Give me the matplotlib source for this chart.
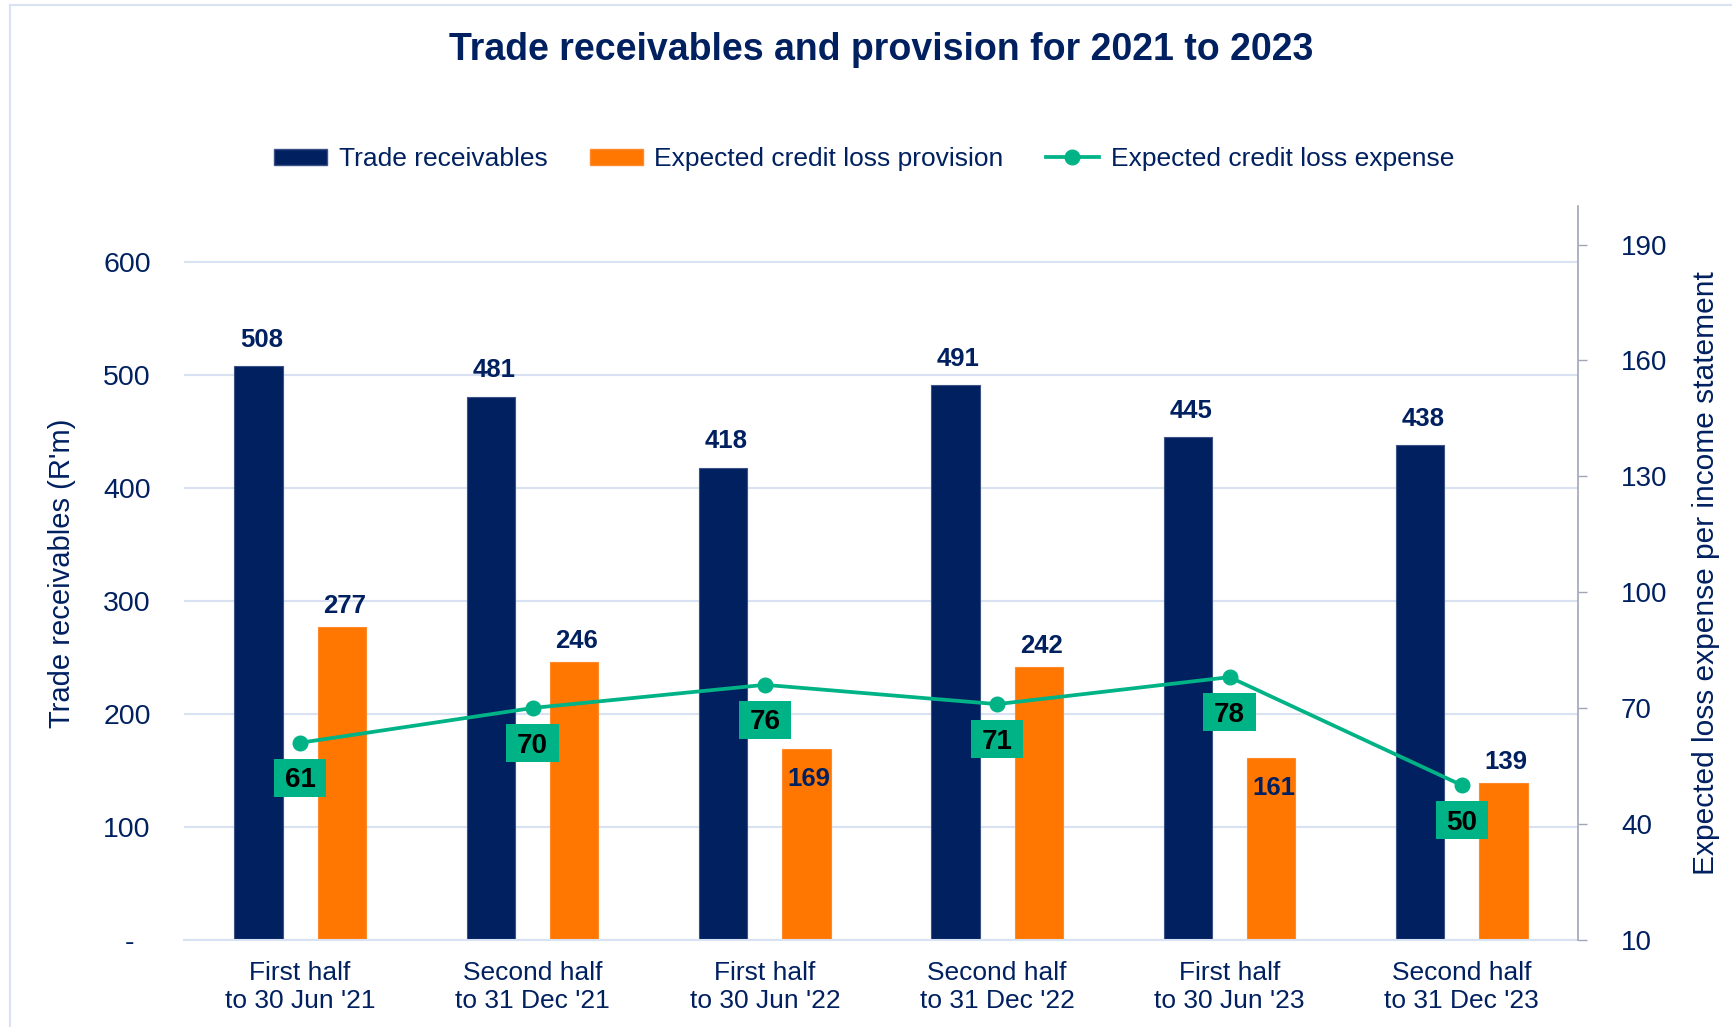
import numpy as np
import matplotlib
matplotlib.use("Agg")
import matplotlib.pyplot as plt
from matplotlib.patches import Patch
from matplotlib.lines import Line2D
from matplotlib.path import Path

plt.rcParams['font.family'] = ['Liberation Sans', 'DejaVu Sans']

# ---- data -------------------------------------------------------------
periods = ["First half\nto 30 Jun '21", "Second half\nto 31 Dec '21",
           "First half\nto 30 Jun '22", "Second half\nto 31 Dec '22",
           "First half\nto 30 Jun '23", "Second half\nto 31 Dec '23"]
trade_receivables = [508, 481, 418, 491, 445, 438]
ecl_provision = [277, 246, 169, 242, 161, 139]
ecl_expense = [61, 70, 76, 71, 78, 50]
# provision labels that sit inside the top of their bar
provision_inside = [False, False, True, False, True, False]

left_ticks = [0, 100, 200, 300, 400, 500, 600]
left_tick_labels = ['-  ', '100', '200', '300', '400', '500', '600']
right_ticks = [10, 40, 70, 100, 130, 160, 190]

NAVY = '#002060'
ORANGE = '#FF7700'
GREEN = '#00B386'
GRID = '#D9E2F3'
AXIS_GREY = '#A0A6B6'


class LabelBox:
    """Rectangular box with separate horizontal / top / bottom padding."""

    def __init__(self, padx, pad_top, pad_bottom):
        self.padx, self.pad_top, self.pad_bottom = padx, pad_top, pad_bottom

    def __call__(self, x0, y0, width, height, mutation_size):
        px = self.padx * mutation_size
        x0, x1 = x0 - px, x0 + width + px
        y1 = y0 + height + self.pad_top * mutation_size
        y0 = y0 - self.pad_bottom * mutation_size
        return Path([(x0, y0), (x1, y0), (x1, y1), (x0, y1), (x0, y0)],
                    closed=True)


W, H = 1732, 1027
fig = plt.figure(figsize=(W / 100, H / 100), dpi=100)
ax = fig.add_axes([184 / W, 1 - 939.7 / H, 1394 / W, 733.7 / H])
ax2 = ax.twinx()

x = np.arange(len(periods))
off, bw = 0.179, 0.208

ax.bar(x - off, trade_receivables, bw, color=NAVY, edgecolor='#3C5286',
       linewidth=0.8, zorder=2)
ax.bar(x + off, ecl_provision, bw, color=ORANGE, edgecolor='#FF8A2E',
       linewidth=0.8, zorder=2)

for xi, v in zip(x, trade_receivables):
    ax.annotate(str(v), (xi - off, v), xytext=(2, 14), textcoords='offset points',
                ha='center', va='baseline', fontsize=18.5, fontweight='bold',
                color=NAVY)
for xi, v, inside in zip(x, ecl_provision, provision_inside):
    dy = -26.5 if inside else 10
    ax.annotate(str(v), (xi + off, v), xytext=(2, dy), textcoords='offset points',
                ha='center', va='baseline', fontsize=18.5, fontweight='bold',
                color=NAVY)

ax.set_xlim(-0.5, len(periods) - 0.5)
ax.set_ylim(0, 650)
ax.set_yticks(left_ticks)
ax.set_yticklabels(left_tick_labels)
ax.set_xticks(x)
ax.set_xticklabels(periods, linespacing=1.25)
ax.tick_params(axis='x', length=0, pad=15, labelsize=19, labelcolor=NAVY)
ax.tick_params(axis='y', length=0, pad=24, labelsize=20.5, labelcolor=NAVY)
ax.yaxis.grid(True, color=GRID, linewidth=1.5, zorder=0)
ax.set_axisbelow(True)
for s in ['left', 'right', 'top']:
    ax.spines[s].set_visible(False)
ax.spines['bottom'].set_color(GRID)
ax.spines['bottom'].set_linewidth(1.5)
ax.set_ylabel("Trade receivables (R'm)", fontsize=21, color=NAVY)
ax.yaxis.set_label_coords((76 - 184) / 1394, 0.5)

# expense line on the secondary axis
ax2.plot(x, ecl_expense, color=GREEN, linewidth=2.7, marker='o',
         markersize=10.5, zorder=3)
for xi, v in zip(x, ecl_expense):
    ax2.annotate(str(v), (xi, v), xytext=(0, -27), textcoords='offset points',
                 ha='center', va='center', fontsize=20, fontweight='bold',
                 color='black',
                 bbox=dict(boxstyle=LabelBox(0.38, 0.31, 0.13), fc=GREEN,
                           ec='none'))
ax2.set_ylim(10, 200)
ax2.set_yticks(right_ticks)
ax2.tick_params(axis='y', direction='out', length=6.5, width=1, color=AXIS_GREY,
                pad=24.5, labelsize=20, labelcolor=NAVY)
for s in ['left', 'top', 'bottom']:
    ax2.spines[s].set_visible(False)
ax2.spines['right'].set_color(AXIS_GREY)
ax2.spines['right'].set_linewidth(1.2)
ax2.set_ylabel("Expected loss expense per income statement", fontsize=21.5,
               color=NAVY, rotation=90)
ax2.yaxis.set_label_coords((1692 - 184) / 1394, 0.5)

# title and legend
fig.text(881 / W, 1 - 60 / H, "Trade receivables and provision for 2021 to 2023",
         ha='center', va='baseline', fontsize=27, fontweight='bold', color=NAVY)

handles = [Patch(facecolor=NAVY, edgecolor='#3C5286'),
           Patch(facecolor=ORANGE, edgecolor='#FF8A2E'),
           Line2D([], [], color=GREEN, linewidth=2.7, marker='o', markersize=10.5)]
labels = ['Trade receivables', 'Expected credit loss provision',
          'Expected credit loss expense']
leg = fig.legend(handles, labels, loc='center', ncol=3,
                 bbox_to_anchor=(864 / W, 1 - 159 / H), frameon=False,
                 fontsize=19, handlelength=2.0, handleheight=0.57,
                 handletextpad=0.45, columnspacing=1.6, borderaxespad=0)
for t in leg.get_texts():
    t.set_color(NAVY)

# light frame around the chart area
fig.add_artist(Line2D([10 / W, 10 / W], [0, 1 - 5 / H], transform=fig.transFigure,
                      color=GRID, linewidth=1.5))
fig.add_artist(Line2D([10 / W, 1], [1 - 5 / H, 1 - 5 / H], transform=fig.transFigure,
                      color=GRID, linewidth=1.5))

fig.savefig('out.png', dpi=100)
